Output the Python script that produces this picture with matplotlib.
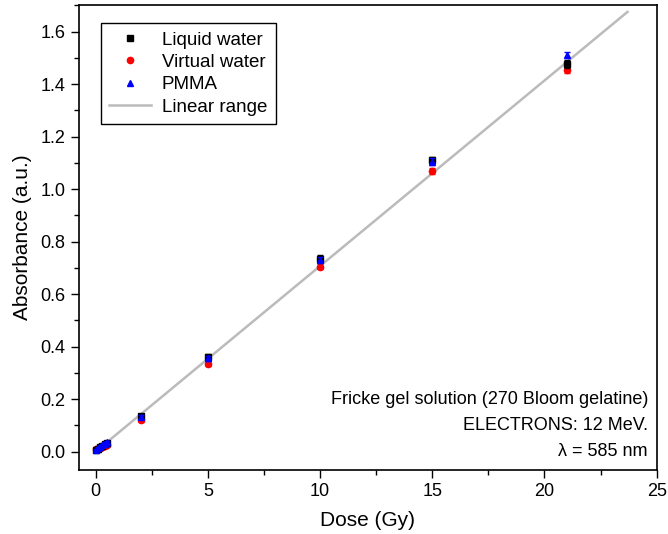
import matplotlib
matplotlib.use("Agg")
import matplotlib.pyplot as plt
from matplotlib.ticker import MultipleLocator
from matplotlib.lines import Line2D

plt.rcParams['font.family'] = ['Liberation Sans', 'DejaVu Sans']

dose = [0.0, 0.1, 0.2, 0.3, 0.4, 0.5, 2, 5, 10, 15, 21]
liquid = [0.005, 0.010, 0.016, 0.022, 0.028, 0.034, 0.135, 0.360, 0.735, 1.110, 1.475]
virtual = [0.010, 0.008, 0.012, 0.016, 0.020, 0.025, 0.120, 0.335, 0.705, 1.070, 1.455]
pmma = [0.006, 0.012, 0.018, 0.024, 0.030, 0.036, 0.132, 0.355, 0.730, 1.105, 1.510]
err_liquid = [0.005, 0.005, 0.005, 0.005, 0.005, 0.005, 0.008, 0.010, 0.012, 0.012, 0.015]
err_virtual = [0.005, 0.005, 0.005, 0.005, 0.005, 0.005, 0.008, 0.010, 0.010, 0.012, 0.012]
err_pmma = [0.005, 0.005, 0.005, 0.005, 0.005, 0.005, 0.008, 0.010, 0.012, 0.012, 0.012]
line_x = [0.0, 23.7]
line_y = [0.0, 1.675]

fig = plt.figure(figsize=(6.68, 5.34), dpi=100)
ax = fig.add_axes([0.118, 0.12, 0.865, 0.87])

ax.plot(line_x, line_y, color='#bbbbbb', lw=1.8, zorder=1)
ax.errorbar(dose, liquid, yerr=err_liquid, fmt='s', color='black', ms=4, capsize=2, elinewidth=1, zorder=3)
ax.errorbar(dose, virtual, yerr=err_virtual, fmt='o', color='red', ms=4.5, capsize=2, elinewidth=1, zorder=2)
ax.errorbar(dose, pmma, yerr=err_pmma, fmt='^', color='blue', ms=5, capsize=2, elinewidth=1, zorder=4)

ax.set_xlim(-0.75, 25)
ax.set_ylim(-0.07, 1.70)
ax.xaxis.set_major_locator(MultipleLocator(5))
ax.xaxis.set_minor_locator(MultipleLocator(2.5))
ax.yaxis.set_major_locator(MultipleLocator(0.2))
ax.yaxis.set_minor_locator(MultipleLocator(0.1))
ax.yaxis.set_major_formatter(matplotlib.ticker.FormatStrFormatter('%.1f'))
ax.tick_params(which='major', direction='out', length=6, width=1, labelsize=13)
ax.tick_params(which='minor', direction='out', length=3.5, width=1)
for s in ax.spines.values():
    s.set_linewidth(1.2)

ax.set_xlabel('Dose (Gy)', fontsize=15, labelpad=8)
ax.set_ylabel('Absorbance (a.u.)', fontsize=15, labelpad=6)

handles = [
    Line2D([], [], ls='none', marker='s', color='black', ms=4),
    Line2D([], [], ls='none', marker='o', color='red', ms=4.5),
    Line2D([], [], ls='none', marker='^', color='blue', ms=5),
    Line2D([], [], color='#bbbbbb', lw=1.8),
]
labels = ['Liquid water', 'Virtual water', 'PMMA', 'Linear range']
ax.legend(handles, labels, loc='upper left', fontsize=13.5,
          fancybox=False, edgecolor='black', framealpha=1, borderpad=0.45,
          handlelength=2.2, labelspacing=0.28, handletextpad=0.6,
          bbox_to_anchor=(0.022, 0.982))

ax.text(0.985, 0.141, 'Fricke gel solution (270 Bloom gelatine)', transform=ax.transAxes, ha='right', fontsize=13)
ax.text(0.985, 0.085, 'ELECTRONS: 12 MeV.', transform=ax.transAxes, ha='right', fontsize=13)
ax.text(0.985, 0.030, 'λ = 585 nm', transform=ax.transAxes, ha='right', fontsize=13)

fig.savefig('out.png', dpi=100)
